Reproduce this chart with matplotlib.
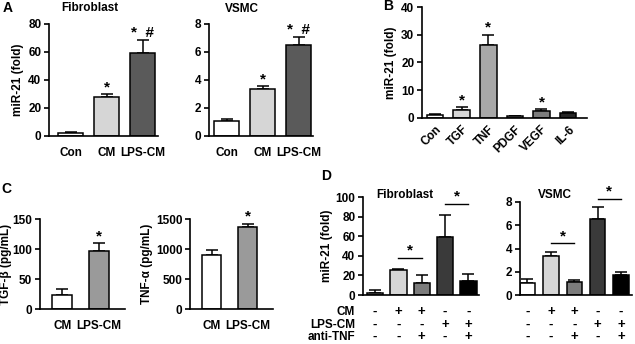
import numpy as np
import matplotlib
matplotlib.use("Agg")
import matplotlib.pyplot as plt

plt.rcParams['font.family'] = ['Liberation Sans', 'DejaVu Sans']
plt.rcParams['font.weight'] = 'bold'
plt.rcParams['axes.labelweight'] = 'bold'
plt.rcParams['font.size'] = 8.5

W, H = 635, 344

# ---- data ----
a_groups = ['Con', 'CM', 'LPS-CM']
a_colors = ['white', '#d6d6d6', '#5a5a5a']
a_fib_mean = [2, 28, 59]
a_fib_err = [1, 2, 9.5]
a_fib_marks = ['', '*', '*  #']
a_vsmc_mean = [1.05, 3.35, 6.5]
a_vsmc_err = [0.17, 0.2, 0.6]
a_vsmc_marks = ['', '*', '*  #']

b_groups = ['Con', 'TGF', 'TNF', 'PDGF', 'VEGF', 'IL-6']
b_colors = ['white', '#d6d6d6', '#a8a8a8', '#a0a0a0', '#7c7c7c', '#262626']
b_mean = [1.2, 3.0, 26.2, 0.7, 2.5, 1.7]
b_err = [0.2, 0.8, 3.8, 0.15, 0.7, 0.4]
b_marks = ['', '*', '*', '', '*', '']

c_groups = ['CM', 'LPS-CM']
c_colors = ['white', '#9a9a9a']
c_tgf_mean = [24, 97]
c_tgf_err = [10, 13]
c_tnf_mean = [900, 1370]
c_tnf_err = [80, 50]
c_marks = ['', '*']

d_colors_fib = ['#bdbdbd', '#d6d6d6', '#7c7c7c', '#3a3a3a', 'black']
d_colors_vsmc = ['white', '#d6d6d6', '#7c7c7c', '#3a3a3a', 'black']
d_fib_mean = [2, 26, 12, 59, 14]
d_fib_err = [3, 1, 8, 23, 7]
d_vsmc_mean = [1.05, 3.35, 1.15, 6.5, 1.7]
d_vsmc_err = [0.3, 0.35, 0.1, 1.1, 0.25]
d_rows = ['CM', 'LPS-CM', 'anti-TNF']
d_signs = [['-', '+', '+', '-', '-'],
           ['-', '-', '-', '+', '+'],
           ['-', '-', '+', '-', '+']]
d_fib_brackets = [(1, 2, 38), (3, 4, 93)]
d_vsmc_brackets = [(1, 2, 4.45), (3, 4, 8.3)]


def px_axes(fig, left, top, right, bottom):
    return fig.add_axes([left / W, 1 - bottom / H, (right - left) / W, (bottom - top) / H])


def px_text(fig, px, py, s, **kw):
    fig.text(px / W, 1 - py / H, s, ha='center', va='center', fontweight='bold', **kw)


def style(ax, ylim, yticks, xlim):
    ax.set_ylim(*ylim)
    ax.set_yticks(yticks)
    ax.set_xlim(*xlim)
    for s in ['top', 'right']:
        ax.spines[s].set_visible(False)
    for s in ['left', 'bottom']:
        ax.spines[s].set_linewidth(1.2)
    ax.tick_params(axis='y', direction='out', length=3.5, width=1.2, pad=2)
    ax.tick_params(axis='x', length=0, pad=8)


def bars(ax, means, errs, colors, width, marks=None):
    x = np.arange(len(means))
    ax.bar(x, means, width=width, color=colors, edgecolor='black', linewidth=1.1, zorder=2)
    ax.errorbar(x, means, yerr=[np.zeros(len(errs)), errs], fmt='none', ecolor='black',
                elinewidth=1.1, capsize=4, capthick=1.1, zorder=1)
    if marks:
        for xi, m, e, mk in zip(x, means, errs, marks):
            if mk:
                ax.annotate(mk, (xi, m + e), xytext=(0, 0), textcoords='offset points',
                            ha='center', va='bottom', fontsize=11, fontweight='bold',
                            annotation_clip=False)
    return x


fig = plt.figure(figsize=(W / 100, H / 100), dpi=100)

# ---- Panel A ----
ax = px_axes(fig, 49, 24, 158, 136)
x = bars(ax, a_fib_mean, a_fib_err, a_colors, 0.7, a_fib_marks)
style(ax, (0, 80), [0, 20, 40, 60, 80], (-0.6, 2.42))
ax.set_xticks(x, a_groups)
ax.set_ylabel('miR-21 (fold)', labelpad=3)
px_text(fig, 90, 8, 'Fibroblast', fontsize=8.5)

ax = px_axes(fig, 209, 24, 313, 136)
x = bars(ax, a_vsmc_mean, a_vsmc_err, a_colors, 0.7, a_vsmc_marks)
style(ax, (0, 8), [0, 2, 4, 6, 8], (-0.49, 2.4))
ax.set_xticks(x, a_groups)
px_text(fig, 242, 9, 'VSMC', fontsize=8.5)

# ---- Panel B ----
ax = px_axes(fig, 422, 7, 587, 118)
x = bars(ax, b_mean, b_err, b_colors, 0.62, b_marks)
style(ax, (0, 40), [0, 10, 20, 30, 40], (-0.49, 5.71))
ax.set_xticks(x, b_groups, rotation=45, ha='right', rotation_mode='anchor')
ax.tick_params(axis='x', pad=4)
ax.set_ylabel('miR-21 (fold)', labelpad=3)

# ---- Panel C ----
ax = px_axes(fig, 40, 219, 125, 309)
x = bars(ax, c_tgf_mean, c_tgf_err, c_colors, 0.54, c_marks)
style(ax, (0, 150), [0, 50, 100, 150], (-0.6, 1.7))
ax.set_xticks(x, c_groups)
ax.set_ylabel('TGF-β (pg/mL)', labelpad=0)

ax = px_axes(fig, 190, 219, 273, 309)
x = bars(ax, c_tnf_mean, c_tnf_err, c_colors, 0.54, c_marks)
style(ax, (0, 1500), [0, 500, 1000, 1500], (-0.6, 1.7))
ax.set_xticks(x, c_groups)
ax.set_ylabel('TNF-α (pg/mL)', labelpad=2)

# ---- Panel D ----
row_px = [312, 325, 337]


def d_panel(left, top, right, bottom, means, errs, colors, width, ylim, yticks, xlim,
            brackets, row_names):
    ax = px_axes(fig, left, top, right, bottom)
    x = bars(ax, means, errs, colors, width)
    style(ax, ylim, yticks, xlim)
    ax.set_xticks([])
    trans = ax.get_xaxis_transform()
    for r, py in enumerate(row_px):
        yf = (bottom - py) / (bottom - top)
        for xi, s in zip(x, d_signs[r]):
            ax.text(xi, yf, s, transform=trans, ha='center', va='center',
                    fontsize=9.5, clip_on=False)
        if row_names:
            ax.text(xlim[0] - 0.35, yf, d_rows[r], transform=trans, ha='right', va='center',
                    clip_on=False)
    for x0, x1, h in brackets:
        ax.plot([x0, x1], [h, h], color='black', lw=1.0, clip_on=False)
        ax.annotate('*', ((x0 + x1) / 2, h), xytext=(0, 0), textcoords='offset points',
                    ha='center', va='bottom', fontsize=11, fontweight='bold',
                    annotation_clip=False)
    return ax


ax = d_panel(363, 197, 479, 295, d_fib_mean, d_fib_err, d_colors_fib, 0.7,
             (0, 100), [0, 20, 40, 60, 80, 100], (-0.51, 4.45), d_fib_brackets, True)
ax.set_ylabel('miR-21 (fold)', labelpad=2)
px_text(fig, 405, 195, 'Fibroblast', fontsize=8.5)

d_panel(520, 202, 632, 295, d_vsmc_mean, d_vsmc_err, d_colors_vsmc, 0.66,
        (0, 8), [0, 2, 4, 6, 8], (-0.32, 4.47), d_vsmc_brackets, False)
px_text(fig, 555, 195, 'VSMC', fontsize=8.5)

# panel letters
for letter, px, py in [('A', 8, 8), ('B', 388, 6), ('C', 6, 189), ('D', 326, 176)]:
    px_text(fig, px, py, letter, fontsize=10)

fig.savefig('out.png', dpi=100)
